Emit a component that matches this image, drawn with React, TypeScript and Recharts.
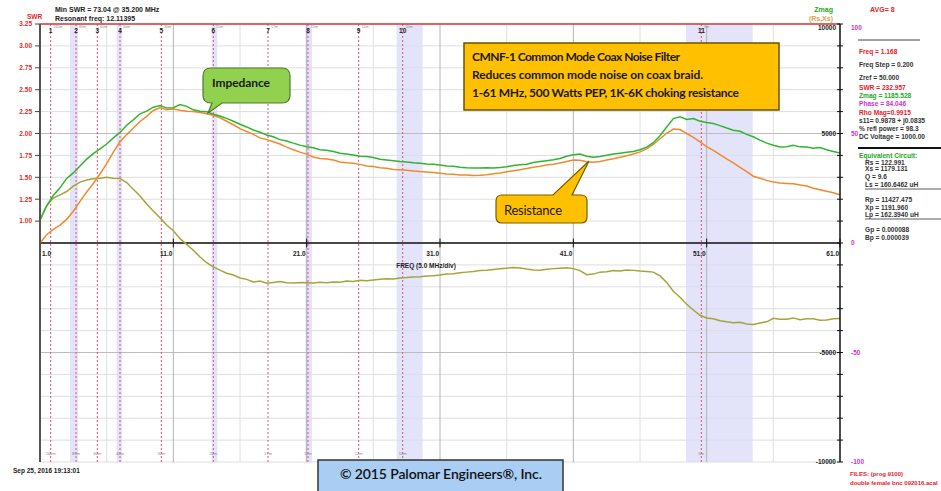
import React from 'react';
import { ComposedChart, Line, XAxis, YAxis, CartesianGrid, ReferenceLine, ReferenceArea } from 'recharts';

// frequency points, MHz (0.5 MHz steps)
const freqs = [
  1, 1.5, 2, 2.5, 3, 3.5, 4, 4.5, 5, 5.5, 6, 6.5, 7, 7.5, 8, 8.5, 9, 9.5, 10, 10.5,
  11, 11.5, 12, 12.5, 13, 13.5, 14, 14.5, 15, 15.5, 16, 16.5, 17, 17.5, 18, 18.5, 19, 19.5, 20, 20.5,
  21, 21.5, 22, 22.5, 23, 23.5, 24, 24.5, 25, 25.5, 26, 26.5, 27, 27.5, 28, 28.5, 29, 29.5, 30, 30.5,
  31, 31.5, 32, 32.5, 33, 33.5, 34, 34.5, 35, 35.5, 36, 36.5, 37, 37.5, 38, 38.5, 39, 39.5, 40, 40.5,
  41, 41.5, 42, 42.5, 43, 43.5, 44, 44.5, 45, 45.5, 46, 46.5, 47, 47.5, 48, 48.5, 49, 49.5, 50, 50.5,
  51, 51.5, 52, 52.5, 53, 53.5, 54, 54.5, 55, 55.5, 56, 56.5, 57, 57.5, 58, 58.5, 59, 59.5, 60, 60.5, 61,
];

// ohms
const zmag = [
  1050, 1700, 2180, 2520, 2950, 3200, 3520, 3830, 4080, 4300, 4520, 4800, 5050, 5380, 5620, 5900, 6020, 6200, 6280, 6160,
  6180, 6320, 6240, 6080, 6020, 5990, 5880, 5800, 5690, 5560, 5420, 5300, 5160, 5060, 4930, 4850, 4720, 4660, 4560, 4470,
  4400, 4350, 4260, 4240, 4180, 4100, 4060, 4020, 3960, 3950, 3900, 3820, 3790, 3760, 3720, 3700, 3660, 3640, 3610, 3600,
  3560, 3520, 3500, 3460, 3440, 3430, 3420, 3440, 3430, 3450, 3480, 3540, 3570, 3600, 3680, 3720, 3760, 3800, 3860, 3960,
  4030, 4060, 3960, 3920, 3950, 4010, 4060, 4100, 4140, 4180, 4260, 4380, 4580, 4900, 5300, 5680, 5760, 5640, 5680, 5560,
  5500, 5460, 5360, 5250, 5150, 5100, 4960, 4850, 4700, 4560, 4460, 4380, 4400, 4460, 4390, 4380, 4330, 4360, 4260, 4180, 4110,
];

const rs = [
  0, 380, 620, 820, 1080, 1450, 1900, 2330, 2720, 3150, 3620, 4150, 4620, 4950, 5250, 5550, 5780, 6050, 6180, 6080,
  6120, 6060, 6020, 6000, 5960, 5900, 5830, 5720, 5560, 5400, 5220, 5090, 4960, 4800, 4720, 4620, 4520, 4380, 4260, 4150,
  4060, 3930, 3860, 3840, 3790, 3700, 3660, 3640, 3590, 3520, 3490, 3440, 3410, 3360, 3340, 3320, 3290, 3260, 3240, 3220,
  3190, 3150, 3140, 3110, 3100, 3080, 3090, 3120, 3160, 3200, 3250, 3300, 3350, 3400, 3460, 3500, 3560, 3600, 3650, 3720,
  3790, 3780, 3710, 3690, 3720, 3790, 3850, 3920, 3980, 4060, 4160, 4300, 4500, 4760, 5010, 5200, 5180, 5000, 4820, 4620,
  4400, 4230, 4040, 3840, 3660, 3450, 3260, 3050, 2960, 2860, 2790, 2740, 2720, 2700, 2650, 2600, 2500, 2430, 2360, 2290, 2200,
];

const xs = [
  1050, 1700, 2050, 2200, 2350, 2600, 2780, 2880, 2930, 2960, 3000, 2960, 2950, 2760, 2450, 2150, 1780, 1460, 1150, 820,
  560, 200, -60, -330, -640, -900, -1090, -1240, -1380, -1460, -1600, -1660, -1780, -1740, -1840, -1800, -1760, -1820, -1830, -1800,
  -1810, -1830, -1790, -1820, -1780, -1790, -1740, -1760, -1700, -1720, -1690, -1660, -1630, -1640, -1600, -1580, -1550, -1540, -1510, -1490,
  -1460, -1420, -1400, -1360, -1330, -1300, -1260, -1240, -1210, -1180, -1150, -1120, -1140, -1190, -1230, -1240, -1200, -1170, -1150, -1130,
  -1170, -1260, -1450, -1420, -1330, -1310, -1260, -1280, -1230, -1250, -1280, -1300, -1330, -1500, -1800, -2200, -2480, -2800, -3060, -3300,
  -3420, -3460, -3550, -3600, -3640, -3620, -3700, -3720, -3650, -3600, -3440, -3480, -3480, -3420, -3500, -3460, -3460, -3530, -3520, -3460, -3450,
];

const swrTicks = [1, 1.25, 1.5, 1.75, 2, 2.25, 2.5, 2.75, 3, 3.25];
const ohmTicks = [
  -10000, -9000, -8000, -7000, -6000, -5000, -4000, -3000, -2000, -1000, 0,
  1000, 2000, 3000, 4000, 5000, 6000, 7000, 8000, 9000, 10000,
];
const ohmLabelVals = [10000, 5000, -5000, -10000];
const phaseLabelVals = [10000, 5000, 0, -5000, -10000];
const phaseLabels = ['100', '50', '0', '-50', '-100'];

const freqTicks = [1, 11, 21, 31, 41, 51, 61];
const gridFreqs = [6, 11, 16, 21, 26, 31, 36, 41, 46, 51, 56];
const majorGrid = [11, 21, 31, 41, 51];

const markerFreqs = [1.8, 3.7, 5.3, 7.0, 10.1, 14.0, 18.1, 21.1, 24.9, 28.2, 50.6];
const markerBands = ['160m', '80m', '60m', '40m', '30m', '20m', '17m', '15m', '12m', '10m', '6m'];
const bandStarts = [3.25, 6.75, 13.87, 20.9, 27.75, 49.45];
const bandEnds = [3.85, 7.15, 14.3, 21.4, 29.7, 54.45];

const data = freqs.map((f, i) => ({ f, zmag: zmag[i], rs: rs[i], xs: xs[i] }));

const small = "'Liberation Sans', Arial, sans-serif";
const box = "Lato, 'Open Sans', sans-serif";

const OhmTick = (p: any) => {
  const { x, y, payload } = p;
  const v = payload.value;
  const ty = v === 10000 ? y + 4 : y;
  const pi = phaseLabelVals.indexOf(v);
  return (
    <g>
      <line x1={x - 3} x2={x + 3} y1={y} y2={y} stroke="#111" />
      {ohmLabelVals.includes(v) && (
        <text x={x - 4} y={ty} dy="0.35em" textAnchor="end" fontSize={6.5} fontWeight={700} fill="#222" fontFamily={small}>
          {v}
        </text>
      )}
      {pi >= 0 && (
        <text x={x + 11} y={ty} dy="0.35em" fontSize={6.5} fontWeight={700} fill="#cc33cc" fontFamily={small}>
          {phaseLabels[pi]}
        </text>
      )}
    </g>
  );
};

const freqLabel = (f: number, first: boolean) => (p: any) => {
  const vb = p.viewBox || { x: 0, y: 0, height: 0 };
  return (
    <text x={first ? vb.x + 2 : vb.x - 1} y={vb.y + vb.height + 9} textAnchor={first ? 'start' : 'end'}
      fontSize={6.5} fontWeight={700} fill="#222" fontFamily={small}>
      {f.toFixed(1)}
    </text>
  );
};

const markerLabel = (n: number, band: string) => (p: any) => {
  const vb = p.viewBox || { x: 0, y: 0, height: 0 };
  return (
    <g fontFamily={small}>
      <text x={vb.x} y={vb.y + 9} textAnchor="middle" fontSize={6.5} fontWeight={700} fill="#222">{n}</text>
      <text x={vb.x + 3} y={vb.y + 4} fontSize={3.5} fill="#888">{band}</text>
      <text x={vb.x} y={vb.y + vb.height - 7} textAnchor="middle" fontSize={4} fill="#888">{band}</text>
    </g>
  );
};

const panel = [
  { t: 'Freq = 1.168', x: 859, y: 54, c: '#e8202a' },
  { t: 'Freq Step = 0.200', x: 859, y: 67, c: '#333' },
  { t: 'Zref =    50.000', x: 859, y: 80, c: '#333' },
  { t: 'SWR   = 232.957', x: 859, y: 90, c: '#e8202a' },
  { t: 'Zmag = 1185.528', x: 859, y: 98, c: '#22aa22' },
  { t: 'Phase =    84.046', x: 859, y: 106, c: '#cc33cc' },
  { t: 'Rho Mag=0.9915', x: 859, y: 115, c: '#e8202a' },
  { t: 's11= 0.9878 + j0.0835', x: 859, y: 123, c: '#333' },
  { t: '% refl power = 98.3', x: 859, y: 131, c: '#333' },
  { t: 'DC Voltage =  1000.00', x: 859, y: 139, c: '#333' },
  { t: 'Equivalent Circuit:', x: 859, y: 158, c: '#22aa22' },
  { t: 'Rs =  122.991', x: 865, y: 165, c: '#333' },
  { t: 'Xs = 1179.131', x: 865, y: 171, c: '#333' },
  { t: 'Q =  9.6', x: 865, y: 179, c: '#333' },
  { t: 'Ls =  160.6462 uH', x: 865, y: 187, c: '#333' },
  { t: 'Rp = 11427.475', x: 865, y: 202, c: '#333' },
  { t: 'Xp = 1191.960', x: 865, y: 210, c: '#333' },
  { t: 'Lp =  162.3940  uH', x: 865, y: 217, c: '#333' },
  { t: 'Gp =  0.000088', x: 865, y: 232, c: '#333' },
  { t: 'Bp =  0.000039', x: 865, y: 240, c: '#333' },
];

export default function App() {
  return (
    <div style={{ position: 'absolute', left: 0, top: 0, width: 941, height: 491, background: '#fff', overflow: 'hidden' }}>
      <ComposedChart width={941} height={491} data={data} margin={{ top: 24, right: 0, bottom: 29, left: 0 }}>
        <XAxis type="number" dataKey="f" domain={[1, 61]} hide />
        <YAxis yAxisId="swr" orientation="left" width={40} type="number" domain={[-1.75, 3.25]} allowDataOverflow
          ticks={swrTicks} interval={0} tickFormatter={(v: number) => v.toFixed(2)} tickSize={5} tickMargin={3}
          axisLine={{ stroke: '#555', strokeWidth: 2 }} tickLine={{ stroke: '#444' }}
          tick={{ fill: '#e02a2a', fontSize: 6.5, fontWeight: 700, fontFamily: small }} />
        <YAxis yAxisId="z" orientation="right" width={101} type="number" domain={[-10000, 10000]} allowDataOverflow
          ticks={ohmTicks} interval={0} tickSize={0} tickMargin={0} tickLine={false}
          axisLine={{ stroke: '#111', strokeWidth: 1.5 }} tick={<OhmTick />} />
        <CartesianGrid yAxisId="z" vertical={false} stroke="#dedede" />
        {gridFreqs.map((f) => (
          <ReferenceLine key={'g' + f} yAxisId="z" x={f} stroke={majorGrid.includes(f) ? '#b4b4b4' : '#e0e0e0'} />
        ))}
        <ReferenceLine yAxisId="z" y={5000} stroke="#bdbdbd" />
        <ReferenceLine yAxisId="z" y={-5000} stroke="#bdbdbd" />
        {bandStarts.map((b, i) => (
          <ReferenceArea key={'b' + i} yAxisId="z" x1={b} x2={bandEnds[i]} fill="#d9d9f7" fillOpacity={0.75} stroke="none" />
        ))}
        {markerFreqs.map((f, i) => (
          <ReferenceLine key={'m' + i} yAxisId="z" x={f} stroke="#e0507a" strokeDasharray="2 2"
            label={{ content: markerLabel(i + 1, markerBands[i]) }} />
        ))}
        <ReferenceLine yAxisId="z" y={10000} stroke="#d93838" strokeWidth={1.5} />
        <ReferenceLine yAxisId="z" y={0} stroke="#111" strokeWidth={1.5} />
        {freqTicks.map((f, i) => (
          <ReferenceLine key={'t' + f} yAxisId="z" segment={[{ x: f, y: -200 }, { x: f, y: 200 }]} stroke="#111"
            label={{ content: freqLabel(f, i === 0) }} />
        ))}
        <Line yAxisId="z" type="linear" dataKey="xs" stroke="#a3a637" strokeWidth={1.5} dot={false} isAnimationActive={false} />
        <Line yAxisId="z" type="linear" dataKey="rs" stroke="#f08a2c" strokeWidth={1.5} dot={false} isAnimationActive={false} />
        <Line yAxisId="z" type="linear" dataKey="zmag" stroke="#30b530" strokeWidth={1.5} dot={false} isAnimationActive={false} />
      </ComposedChart>

      <svg width={941} height={491} style={{ position: 'absolute', left: 0, top: 0, pointerEvents: 'none' }}>
        <g fontFamily={small} fontWeight={700} fontSize={7}>
          <text x={55} y={12} fill="#222">Min SWR =  73.04 @  35.200 MHz</text>
          <text x={55} y={21} fill="#222">Resonant freq:   12.11395</text>
          <text x={27} y={19} fill="#e02a2a" fontSize={6.5}>SWR</text>
          <text x={833} y={12} fill="#22aa22" textAnchor="end">Zmag</text>
          <text x={833} y={21} fill="#e0a050" textAnchor="end">(Rs,Xs)</text>
          <text x={870} y={12} fill="#e8202a">AVG=  8</text>
          <text x={426} y={268} fill="#222" textAnchor="middle" fontSize={6.5}>FREQ (5.0 MHz/div)</text>
          <text x={13} y={473} fill="#222" fontSize={6.5}>Sep 25, 2016   19:13:01</text>
          <text x={850} y={476} fill="#e8202a" fontSize={6}>FILES:  (prog 9100)</text>
          <text x={850} y={485} fill="#e8202a" fontSize={6}>double  female bnc 092016.acal</text>
          {panel.map((r) => (
            <text key={r.t} x={r.x} y={r.y} fill={r.c} fontSize={6.6}>{r.t}</text>
          ))}
        </g>
        <line x1={858} x2={920} y1={40} y2={40} stroke="#444" strokeWidth={1} />
        <line x1={858} x2={941} y1={148} y2={148} stroke="#111" strokeWidth={2} />
        <line x1={865} x2={941} y1={189} y2={189} stroke="#333" strokeWidth={0.8} />
        <line x1={865} x2={941} y1={219} y2={219} stroke="#333" strokeWidth={0.8} />

        <rect x={464} y={43} width={315} height={67} fill="#ffc000" stroke="#6b5200" strokeWidth={1.5} />
        <g fontFamily={box} fontWeight={700} fontSize={12} fill="#1a1a1a">
          <text x={472} y={61} textLength={208}>CMNF-1 Common Mode Coax Noise Filter</text>
          <text x={472} y={79} textLength={231}>Reduces common mode noise on coax braid.</text>
          <text x={472} y={97} textLength={267}>1-61 MHz, 500 Watts PEP, 1K-6K  choking resistance</text>
        </g>

        <path d="M 211 68 H 282 Q 290 68 290 76 V 95 Q 290 103 282 103 H 222 L 208 113 L 212 103 H 211 Q 203 103 203 95 V 76 Q 203 68 211 68 Z"
          fill="#92d050" stroke="#4f7a28" strokeWidth={1.2} />
        <text x={212} y={87} fontFamily={box} fontWeight={700} fontSize={12} fill="#1a1a1a" textLength={58}>Impedance</text>

        <path d="M 502 195 H 553 L 589 161 L 572 195 H 581 Q 587 195 587 201 V 217 Q 587 223 581 223 H 502 Q 496 223 496 217 V 201 Q 496 195 502 195 Z"
          fill="#ffc000" stroke="#7a5c00" strokeWidth={1.2} />
        <text x={504} y={215} fontFamily={box} fontSize={13} fill="#1a1a1a" textLength={58}>Resistance</text>

        <rect x={318} y={460} width={245} height={40} fill="#a9cdf3" stroke="#333" strokeWidth={1.5} />
        <text x={441} y={479} textAnchor="middle" fontFamily={box} fontWeight={600} fontSize={14} fill="#111" textLength={202}>
          © 2015 Palomar Engineers®, Inc.
        </text>
      </svg>
    </div>
  );
}
